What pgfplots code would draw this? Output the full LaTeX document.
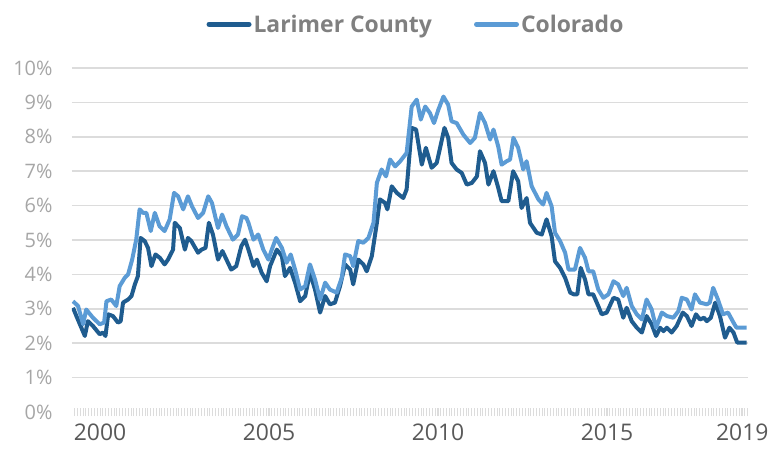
\documentclass[border=0pt]{standalone}
\usepackage{fontspec}
\setmainfont{Open Sans}
\usepackage{pgfplots}
\pgfplotsset{compat=1.18}
\definecolor{larimer}{HTML}{1F5C8F}
\definecolor{colorado}{HTML}{5B9BD5}
\definecolor{gridc}{HTML}{DCDCDC}
\definecolor{ylab}{HTML}{A6A6A6}
\definecolor{xlab}{HTML}{595959}
\definecolor{leg}{HTML}{808080}
\begin{document}
\begin{tikzpicture}
\begin{axis}[
  name=ax,
  scale only axis,
  width=676bp, height=344bp,
  xmin=1999.17, xmax=2019.17,
  ymin=0, ymax=10,
  axis line style={draw=none},
  ytick={1,...,10},
  extra y ticks={0},
  extra y tick style={grid=none},
  yticklabel={\pgfmathparse{int(round(\tick))}\pgfmathresult\%},
  ymajorgrids,
  grid style={gridc, line width=1.6bp},
  y tick label style={font=\fontsize{20}{24}\selectfont, text=ylab, xshift=-12bp},
  major y tick style={draw=none},
  xtick pos=bottom, ytick pos=left,
  xtick={2000,2005,2010,2015,2019},
  xticklabels={2000,2005,2010,2015,2019},
  minor xtick={1999.25,1999.3333,...,2019.17},
  x tick label style={font=\fontsize{23}{27}\selectfont, text=xlab, yshift=-4bp},
  tick align=center,
  major tick length=8bp, minor tick length=8bp,
  every tick/.style={draw=gridc, line width=1bp},
  /pgf/number format/assume math mode=true,
  legend style={at={(0.5,1)}, anchor=south, yshift=30bp, xshift=6bp, draw=none, fill=none,
    font=\fontsize{23}{27}\selectfont\bfseries, text=leg,
    nodes={inner xsep=2bp},
    column sep=0bp, /tikz/every even column/.append style={column sep=40bp}},
  legend columns=2,
  legend image code/.code={\draw[#1, line width=5bp, line cap=round] (0bp,0bp) -- (40bp,0bp);},
]
\addplot[larimer, line width=4bp, line join=round] coordinates {
(1999.20,3.03)(1999.30,2.79)(1999.55,2.21)(1999.64,2.64)(1999.79,2.50)(1999.99,2.26)
(2000.09,2.31)(2000.16,2.21)(2000.24,2.84)(2000.38,2.79)(2000.53,2.60)(2000.61,2.64)
(2000.68,3.18)(2000.83,3.27)(2000.93,3.37)(2001.03,3.71)(2001.12,3.95)(2001.20,5.06)
(2001.32,4.97)(2001.42,4.77)(2001.52,4.24)(2001.64,4.58)(2001.77,4.48)(2001.91,4.29)
(2002.01,4.43)(2002.16,4.72)(2002.21,5.50)(2002.36,5.35)(2002.51,4.72)(2002.60,5.06)
(2002.70,4.97)(2002.90,4.63)(2003.00,4.72)(2003.12,4.77)(2003.22,5.50)(2003.34,5.16)
(2003.49,4.43)(2003.62,4.68)(2003.74,4.43)(2003.88,4.14)(2004.03,4.24)(2004.18,4.82)
(2004.29,5.01)(2004.39,4.72)(2004.54,4.24)(2004.64,4.43)(2004.78,4.05)(2004.93,3.80)
(2005.03,4.24)(2005.23,4.72)(2005.38,4.53)(2005.47,3.95)(2005.62,4.19)(2005.77,3.76)
(2005.92,3.22)(2006.07,3.37)(2006.21,4.05)(2006.36,3.56)(2006.51,2.89)(2006.66,3.37)
(2006.80,3.13)(2006.95,3.18)(2007.10,3.66)(2007.25,4.29)(2007.40,4.14)(2007.49,3.71)
(2007.64,4.43)(2007.79,4.29)(2007.89,4.09)(2008.04,4.53)(2008.19,5.50)(2008.28,6.18)
(2008.43,6.08)(2008.50,5.89)(2008.63,6.56)(2008.78,6.37)(2008.97,6.22)(2009.07,6.47)
(2009.22,8.26)(2009.35,8.21)(2009.52,7.19)(2009.64,7.68)(2009.81,7.10)(2009.96,7.24)
(2010.06,7.68)(2010.19,8.26)(2010.30,7.97)(2010.40,7.24)(2010.55,7.05)(2010.70,6.95)
(2010.85,6.61)(2011.00,6.66)(2011.15,6.85)(2011.24,7.58)(2011.39,7.24)(2011.49,6.61)
(2011.64,7.00)(2011.78,6.52)(2011.88,6.13)(2012.08,6.13)(2012.22,7.00)(2012.37,6.71)
(2012.47,5.93)(2012.62,6.22)(2012.72,5.50)(2012.92,5.21)(2013.07,5.16)(2013.21,5.60)
(2013.36,5.11)(2013.46,4.38)(2013.61,4.19)(2013.76,3.90)(2013.91,3.47)(2014.02,3.42)
(2014.12,3.42)(2014.22,4.19)(2014.35,3.85)(2014.45,3.42)(2014.59,3.42)(2014.74,3.08)
(2014.84,2.84)(2014.99,2.89)(2015.19,3.32)(2015.33,3.27)(2015.48,2.74)(2015.58,3.03)
(2015.73,2.64)(2015.88,2.45)(2016.03,2.31)(2016.17,2.79)(2016.32,2.55)(2016.45,2.21)
(2016.57,2.45)(2016.67,2.35)(2016.77,2.45)(2016.91,2.31)(2017.06,2.50)(2017.24,2.89)
(2017.36,2.79)(2017.50,2.50)(2017.63,2.84)(2017.75,2.69)(2017.87,2.74)(2017.95,2.64)
(2018.07,2.74)(2018.20,3.18)(2018.34,2.79)(2018.49,2.16)(2018.62,2.45)(2018.74,2.31)
(2018.85,2.02)(2019.13,2.02)
};
\addlegendentry{Larimer County}
\addplot[colorado, line width=4bp, line join=round] coordinates {
(1999.20,3.22)(1999.35,3.08)(1999.50,2.55)(1999.59,2.98)(1999.79,2.74)(1999.99,2.55)
(2000.12,2.60)(2000.19,3.22)(2000.33,3.27)(2000.48,3.08)(2000.58,3.66)(2000.73,3.90)
(2000.83,4.00)(2000.95,4.43)(2001.07,5.01)(2001.17,5.89)(2001.27,5.79)(2001.37,5.79)
(2001.50,5.26)(2001.62,5.79)(2001.76,5.40)(2001.91,5.26)(2002.06,5.60)(2002.19,6.37)
(2002.31,6.27)(2002.46,5.89)(2002.60,6.27)(2002.72,5.98)(2002.90,5.64)(2003.05,5.79)
(2003.20,6.27)(2003.31,6.08)(2003.49,5.35)(2003.61,5.74)(2003.74,5.40)(2003.93,5.01)
(2004.08,5.16)(2004.20,5.69)(2004.33,5.64)(2004.39,5.50)(2004.54,5.01)(2004.68,5.16)
(2004.83,4.72)(2004.98,4.43)(2005.08,4.72)(2005.21,5.06)(2005.38,4.77)(2005.52,4.34)
(2005.64,4.58)(2005.77,4.14)(2005.92,3.56)(2006.07,3.66)(2006.21,4.29)(2006.36,3.85)
(2006.51,3.27)(2006.66,3.76)(2006.80,3.56)(2007.00,3.47)(2007.15,3.90)(2007.25,4.58)
(2007.40,4.53)(2007.49,4.24)(2007.64,4.97)(2007.79,4.92)(2007.94,5.06)(2008.09,5.50)
(2008.19,6.66)(2008.33,7.05)(2008.46,6.85)(2008.58,7.34)(2008.73,7.14)(2008.88,7.29)
(2009.07,7.53)(2009.22,8.88)(2009.37,9.08)(2009.49,8.50)(2009.62,8.88)(2009.76,8.69)
(2009.88,8.40)(2010.01,8.79)(2010.16,9.17)(2010.30,8.93)(2010.40,8.45)(2010.55,8.40)
(2010.75,8.06)(2010.95,7.82)(2011.09,7.97)(2011.24,8.69)(2011.39,8.40)(2011.54,7.92)
(2011.64,8.21)(2011.78,7.72)(2011.88,7.19)(2012.03,7.29)(2012.13,7.34)(2012.23,7.97)
(2012.37,7.68)(2012.52,7.05)(2012.62,7.29)(2012.77,6.56)(2012.97,6.18)(2013.11,6.03)
(2013.21,6.37)(2013.36,5.98)(2013.46,5.21)(2013.61,4.97)(2013.76,4.63)(2013.86,4.14)
(2014.05,4.14)(2014.20,4.77)(2014.35,4.48)(2014.45,4.09)(2014.59,4.09)(2014.74,3.56)
(2014.89,3.32)(2015.04,3.42)(2015.19,3.80)(2015.33,3.71)(2015.48,3.37)(2015.58,3.61)
(2015.73,3.08)(2015.88,2.84)(2016.03,2.69)(2016.17,3.27)(2016.32,2.98)(2016.45,2.45)
(2016.62,2.89)(2016.77,2.79)(2016.96,2.74)(2017.11,2.93)(2017.21,3.32)(2017.36,3.27)
(2017.50,2.98)(2017.60,3.42)(2017.75,3.18)(2017.95,3.13)(2018.04,3.18)(2018.14,3.61)
(2018.28,3.27)(2018.43,2.84)(2018.58,2.89)(2018.74,2.60)(2018.83,2.45)(2019.13,2.45)
};
\addlegendentry{Colorado}
\end{axis}
\pgfresetboundingbox
\path ([shift={(-72bp,-46bp)}]ax.south west) rectangle ([shift={(23bp,68bp)}]ax.north east);
\end{tikzpicture}
\end{document}
